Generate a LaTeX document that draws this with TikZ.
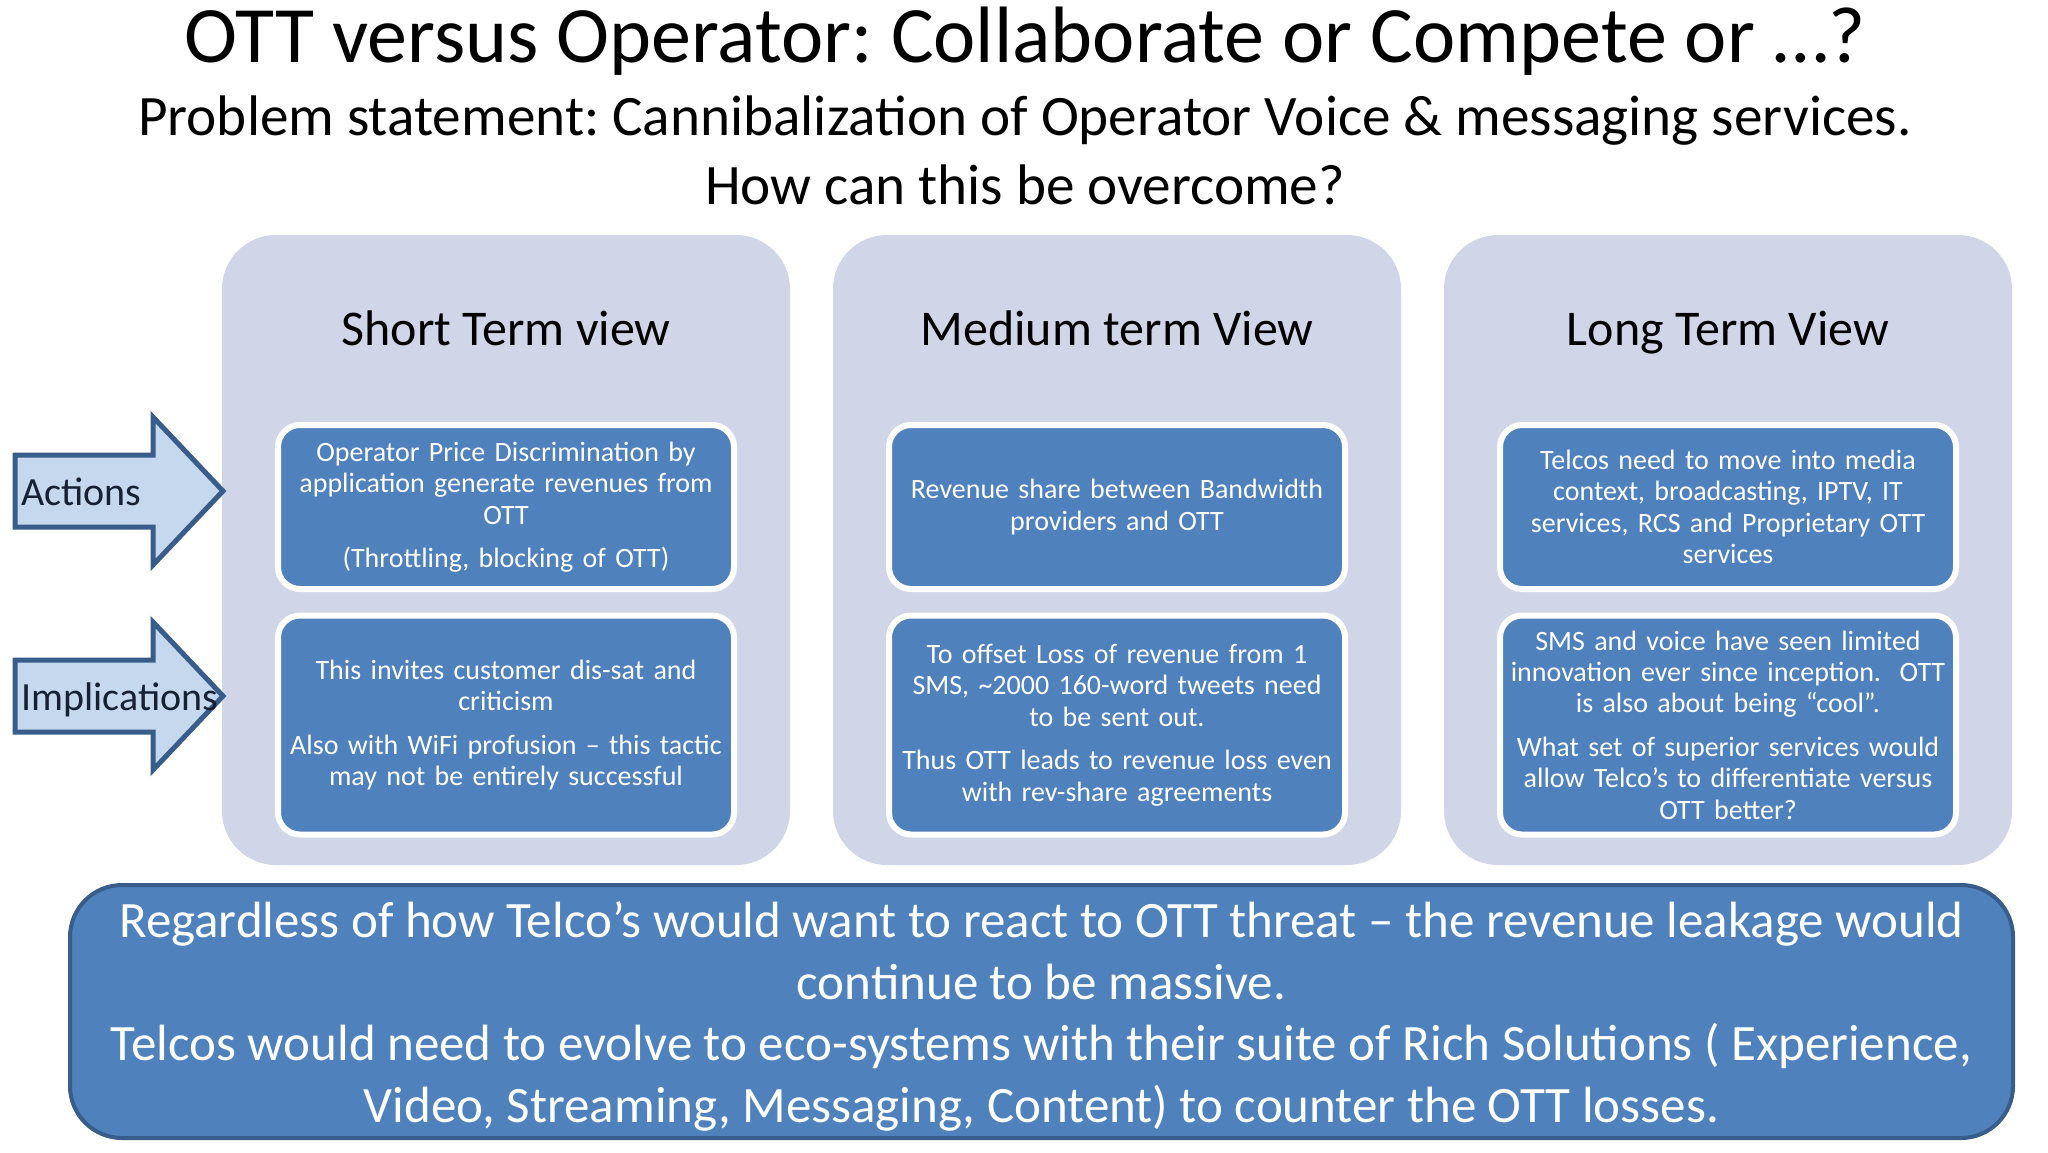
\documentclass[tikz,border=0pt]{standalone}
\usepackage{fontspec}
\setmainfont{Carlito}
\frenchspacing
\usetikzlibrary{positioning}
\definecolor{panelfill}{RGB}{208,214,232}
\definecolor{cellfill}{RGB}{79,129,189}
\definecolor{cellline}{RGB}{56,93,138}
\definecolor{arrowfill}{RGB}{198,216,238}
\definecolor{arrowtext}{RGB}{22,34,52}

\begin{document}
\begin{tikzpicture}[x=0.5pt,y=-0.5pt,
  every node/.style={inner sep=0pt},
  panel/.style={fill=panelfill,rounded corners=27pt,minimum width=284pt,minimum height=315pt},
  viewhead/.style={anchor=base,font=\fontsize{25}{30}\selectfont},
  cell/.style={fill=cellfill,draw=white,line width=3pt,rounded corners=11pt,
    minimum width=228pt,text width=224pt,align=center,text=white,
    font=\fontsize{14}{15.7}\selectfont},
  sidearrow/.style={fill=arrowfill,draw=cellline,line width=2.5pt,line join=miter},
  sidelabel/.style={anchor=base west,text=arrowtext,font=\fontsize{20}{24}\selectfont}]
  \useasboundingbox (0,0) rectangle (2048,1152);

  % title lines
  \node[anchor=base,font=\fontsize{40}{48}\selectfont] (title) at (1025,62)
    {OTT versus Operator: Collaborate or Compete or …?};
  \node[anchor=base,font=\fontsize{28.6}{34}\selectfont] (problem) at (1025,135)
    {Problem statement: Cannibalization of Operator Voice \& messaging services.};
  \node[anchor=base,font=\fontsize{28.6}{34}\selectfont] (question) at (1025,204)
    {How can this be overcome?};

  % three views
  \foreach \cx/\nm/\hd in {506/short/Short Term view,1117/medium/Medium term View,1728/long/Long Term View} {
    \node[panel] (\nm) at (\cx,550) {};
    \node[viewhead] (\nm-head) at (\cx,345) {\hd};
  }

  \node[cell,minimum height=82pt] (short-act) at (506,507)
    {Operator Price Discrimination by\\ application generate revenues from\\ OTT\\[6pt]
     (Throttling, blocking of OTT)};
  \node[cell,minimum height=109.5pt] (short-imp) at (506,725)
    {This invites customer dis-sat and\\ criticism\\[6pt]
     Also with WiFi profusion – this tactic\\ may not be entirely successful};
  \node[cell,minimum height=82pt] (medium-act) at (1117,507)
    {Revenue share between Bandwidth\\ providers and OTT};
  \node[cell,minimum height=109.5pt] (medium-imp) at (1117,725)
    {To offset Loss of revenue from 1\\ SMS, \textasciitilde2000 160-word tweets need\\ to be sent out.\\[6pt]
     Thus OTT leads to revenue loss even\\ with rev-share agreements};
  \node[cell,minimum height=82pt] (long-act) at (1728,507)
    {Telcos need to move into media\\ context, broadcasting, IPTV, IT\\ services, RCS and Proprietary OTT\\ services};
  \node[cell,minimum height=109.5pt] (long-imp) at (1728,725)
    {SMS and voice have seen limited\\ innovation ever since inception.\ \ OTT\\ is also about being “cool”.\\[6pt]
     What set of superior services would\\ allow Telco’s to differentiate versus\\ OTT better?};

  % row arrows
  \foreach \yc/\nm/\lb in {491/act/Actions,696/imp/Implications} {
    \draw[sidearrow] (15,\yc-36) -- (153,\yc-36) -- (153,\yc-74) -- (223,\yc)
      -- (153,\yc+74) -- (153,\yc+36) -- (15,\yc+36) -- cycle;
    \node[sidelabel] (\nm-label) at (21,\yc+14) {\lb};
  }

  % conclusion
  \node[draw=cellline,line width=2pt,fill=cellfill,rounded corners=26pt,
    minimum width=971.5pt,minimum height=126.5pt] (summary) at (1041.5,1011.5) {};
  \node[text=white,align=center,font=\fontsize{25.5}{30.75}\selectfont]
    (summary-text) at ([yshift=-2.5pt]summary.center)
    {Regardless of how Telco’s would want to react to OTT threat – the revenue leakage would\\
     continue to be massive.\\
     Telcos would need to evolve to eco-systems with their suite of Rich Solutions ( Experience,\\
     Video, Streaming, Messaging, Content) to counter the OTT losses.};
\end{tikzpicture}
\end{document}
